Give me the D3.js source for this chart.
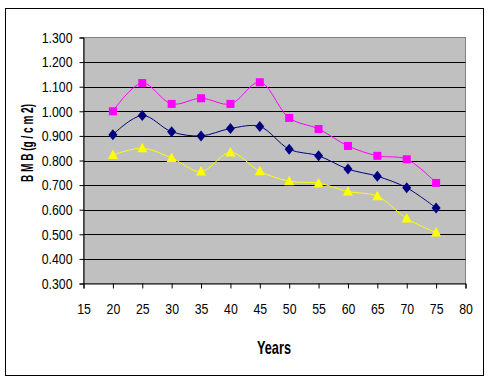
<!DOCTYPE html>
<html><head><meta charset="utf-8">
<script src="https://cdn.jsdelivr.net/npm/d3@7"></script>
<style>body{margin:0;background:#fff}svg{display:block}text{font-family:"Liberation Sans",Arial,sans-serif}</style>
</head><body><svg id="c" width="490" height="383"></svg>
<script>
const years = [20,25,30,35,40,45,50,55,60,65,70,75];
const pinkValues = [1.000,1.115,1.030,1.053,1.030,1.118,0.973,0.928,0.859,0.819,0.805,0.709];
const navyValues = [0.905,0.983,0.917,0.900,0.930,0.938,0.846,0.819,0.765,0.736,0.689,0.607];
const yellowValues = [0.822,0.850,0.810,0.755,0.833,0.756,0.716,0.708,0.674,0.655,0.564,0.507];
const xTicks = [15,20,25,30,35,40,45,50,55,60,65,70,75,80];
const yTicks = [0.3,0.4,0.5,0.6,0.7,0.8,0.9,1.0,1.1,1.2,1.3];

const svg = d3.select("#c");
svg.append("rect").attr("x",5.5).attr("y",8.5).attr("width",478).attr("height",367)
  .attr("fill","#fff").attr("stroke","#000").attr("stroke-width",1);

const L=83.5, R=465.5, T=37.5, B=283.5;
const x = d3.scaleLinear().domain([15,80]).range([L,R]);
const y = d3.scaleLinear().domain([0.3,1.3]).range([B,T]);

svg.append("rect").attr("x",L).attr("y",T).attr("width",R-L).attr("height",B-T)
  .attr("fill","#C0C0C0").attr("stroke","#808080");

svg.append("g").selectAll("line").data(yTicks.slice(1,-1)).join("line")
  .attr("x1",L).attr("x2",R).attr("y1",d=>Math.round(y(d))+0.5).attr("y2",d=>Math.round(y(d))+0.5)
  .attr("stroke","#000").attr("stroke-width",1);

function narrow(sel, ratio){
  sel.each(function(){
    const w=this.getComputedTextLength();
    d3.select(this).attr("textLength", w*ratio).attr("lengthAdjust","spacingAndGlyphs");
  });
}

const yAxis = svg.append("g").attr("transform",`translate(${L},0)`)
  .call(d3.axisLeft(y).tickValues(yTicks).tickFormat(d3.format(".3f")).tickSize(4).tickPadding(7));
const xAxis = svg.append("g").attr("transform",`translate(0,${B})`)
  .call(d3.axisBottom(x).tickValues(xTicks).tickFormat(d3.format("d")).tickSize(5).tickPadding(15));
[yAxis,xAxis].forEach(g=>{
  g.select(".domain").attr("stroke","#000");
  g.selectAll(".tick line").attr("stroke","#000");
  g.selectAll("text").attr("font-size",15).attr("fill","#000").style("font-family","'Liberation Sans',Arial,sans-serif");
  narrow(g.selectAll("text"), 0.82);
});

const series = [
  {vals:pinkValues, color:"#FF00FF", shape:"square"},
  {vals:navyValues, color:"#000080", shape:"diamond"},
  {vals:yellowValues, color:"#FFFF00", shape:"triangle"}
];
const line = d3.line().x(d=>x(d[0])).y(d=>y(d[1])).curve(d3.curveCatmullRom.alpha(0.5));
series.forEach(s=>{
  const pts = years.map((yr,i)=>[yr,s.vals[i]]);
  svg.append("path").attr("d",line(pts)).attr("fill","none").attr("stroke",s.color).attr("stroke-width",1);
  const g = svg.append("g");
  pts.forEach(p=>{
    const cx=x(p[0]), cy=y(p[1]);
    if(s.shape==="square"){
      g.append("rect").attr("x",cx-4).attr("y",cy-4).attr("width",8).attr("height",8).attr("fill",s.color);
    } else if(s.shape==="diamond"){
      g.append("path").attr("d",`M${cx},${cy-5.5}L${cx+4.5},${cy}L${cx},${cy+5.5}L${cx-4.5},${cy}Z`).attr("fill",s.color);
    } else {
      g.append("path").attr("d",`M${cx},${cy-5.5}L${cx+5},${cy+4}L${cx-5},${cy+4}Z`).attr("fill",s.color);
    }
  });
});

svg.append("text").attr("x",274).attr("y",354).attr("text-anchor","middle")
  .attr("font-size",19).attr("font-weight","bold")
  .attr("textLength",34).attr("lengthAdjust","spacingAndGlyphs").text("Years");
svg.append("text").attr("transform","translate(33,143) rotate(-90)").attr("text-anchor","middle")
  .attr("font-size",17).attr("font-weight","bold")
  .attr("textLength",78).attr("lengthAdjust","spacingAndGlyphs").text("B M B (g / c m 2)");
</script></body></html>
